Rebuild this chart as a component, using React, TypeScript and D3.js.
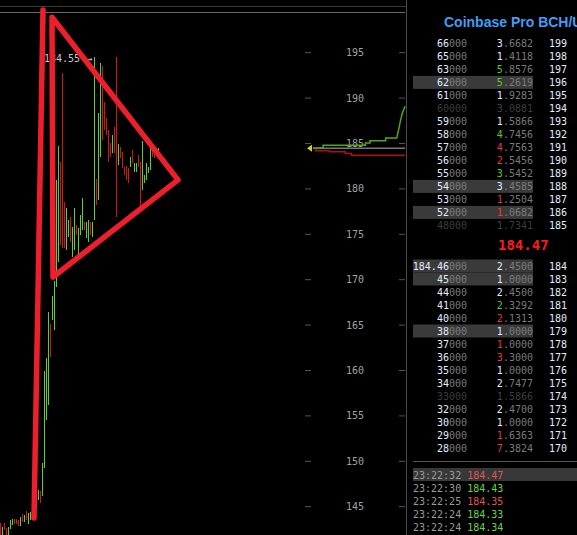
import * as d3 from "d3";

// candles, one per 2px column, left to right
const candleHighs = [
  143.2, 142.8, 143.2, 142.7, 142.8, 143.5, 143.7, 143.7, 143.6, 143.5,
  143.9, 144.2, 144.1, 144.5, 144.3, 144.4, 144.9, 145.2, 146.6, 146.8,
  146.7, 149.8, 160.0, 161.4, 166.4, 165.1, 168.2, 169.9, 181.0, 184.7,
  183.0, 192.8, 178.6, 177.9, 176.6, 176.9, 175.8, 177.9, 176.0, 175.7,
  177.1, 179.0, 176.4, 176.3, 176.6, 176.4, 176.4, 194.5, 181.1, 188.4,
  193.9, 193.5, 189.6, 187.8, 186.5, 185.1, 185.9, 186.8, 194.5, 184.9,
  184.6, 184.1, 182.4, 182.5, 182.3, 183.5, 184.3, 182.9, 182.9, 183.7,
  183.0, 185.3, 181.5, 182.9, 182.4, 184.6, 184.6, 184.1, 184.5, 184.5,
];
const candleLows = [
  141.9, 141.9, 142.4, 141.9, 141.9, 142.5, 143.0, 143.1, 143.1, 142.9,
  142.9, 143.3, 143.3, 143.5, 143.1, 143.5, 144.0, 144.1, 144.9, 145.7,
  145.4, 146.2, 149.3, 154.6, 156.2, 161.5, 165.6, 164.5, 169.2, 171.9,
  173.8, 173.5, 173.5, 173.3, 174.7, 174.2, 172.5, 173.3, 174.9, 172.5,
  174.9, 175.5, 175.5, 174.6, 174.2, 174.9, 174.7, 176.6, 178.2, 178.8,
  183.5, 185.4, 186.5, 185.9, 183.0, 183.5, 184.0, 184.0, 176.9, 182.6,
  183.4, 182.3, 181.5, 181.0, 180.6, 182.4, 182.9, 181.9, 181.9, 182.4,
  177.9, 179.9, 180.6, 181.0, 181.8, 182.1, 183.5, 183.4, 183.7, 184.1,
];
const candleUp = [
  0, 1, 0, 0, 1, 1, 1, 0, 0, 0,
  1, 0, 1, 0, 1, 1, 0, 1, 1, 1,
  0, 1, 1, 1, 1, 0, 1, 1, 1, 1,
  0, 0, 0, 1, 1, 0, 1, 1, 0, 1,
  1, 1, 0, 1, 1, 0, 1, 1, 0, 1,
  1, 0, 0, 0, 0, 0, 1, 0, 0, 1,
  0, 0, 0, 0, 0, 1, 0, 1, 1, 0,
  0, 1, 1, 1, 1, 1, 0, 0, 1, 1,
];

const priceTicks = [195, 190, 185, 180, 175, 170, 165, 160, 155, 150, 145];
const lastPrice = 184.47;

// depth lines: [cumulative volume, price]
const askDepth = [
  [0, 184.5], [11, 184.5], [11, 184.8], [57, 184.8], [57, 185.05], [62, 185.05],
  [62, 185.3], [79, 185.3], [79, 185.6], [91, 185.6], [93, 186.5], [95, 187.5],
  [97, 188.3], [100, 189.1],
];
const bidDepth = [
  [0, 184.45], [3, 184.45], [3, 184.2], [18, 184.2], [18, 184.1], [35, 184.1],
  [35, 183.9], [42, 183.9], [42, 183.7], [100, 183.7],
];

// red hand drawing, in candle index / price
const flagPole = [[17, 143.75], [21.5, 199.7]];
const flagTriangle = [[26, 198.9], [89, 181.0], [26.5, 170.3]];

// order book
const askHeads = ["66", "65", "63", "62", "61", "60", "59", "58", "57", "56", "55", "54", "53", "52", "48"];
const askSizes = ["3.6682", "1.4118", "5.8576", "5.2619", "1.9283", "3.0881", "1.5866", "4.7456", "4.7563", "2.5456", "3.5452", "3.4585", "1.2504", "1.0682", "1.7341"];
const askTones = ["w", "w", "g", "g", "w", "d", "w", "g", "r", "r", "g", "w", "r", "r", "d"];
const askLevels = [199, 198, 197, 196, 195, 194, 193, 192, 191, 190, 189, 188, 187, 186, 185];
const askMarked = [3, 11, 13];

const bidHeads = ["184.46", "45", "44", "41", "40", "38", "37", "36", "35", "34", "33", "32", "30", "29", "28"];
const bidSizes = ["2.4500", "1.0000", "2.4500", "2.3292", "2.1313", "1.0000", "1.0000", "3.3000", "1.0000", "2.7477", "1.5866", "2.4700", "1.0000", "1.6363", "7.3824"];
const bidTones = ["w", "w", "w", "g", "r", "w", "r", "r", "w", "w", "d", "w", "w", "r", "r"];
const bidLevels = [184, 183, 182, 181, 180, 179, 178, 177, 176, 175, 174, 173, 172, 171, 170];
const bidMarked = [0, 1, 5];

const tradeTimes = ["23:22:32", "23:22:30", "23:22:25", "23:22:24", "23:22:24"];
const tradePrices = ["184.47", "184.43", "184.35", "184.33", "184.34"];
const tradeUp = [0, 1, 0, 1, 1];

const W = 577;
const H = 535;
const MONO = "'DejaVu Sans Mono', monospace";
const GREEN = "#66cc2c";
const RED = "#cc1818";
const INK = "#ee1f2c";
const BRIGHT = "#e2ecff";
const DIMTXT = "#7a7a7a";

const toneColor = (t: string) =>
  t === "g" ? "#5fc92a" : t === "r" ? "#e43a3a" : t === "d" ? "#444" : BRIGHT;

export default function App() {
  const x = d3.scaleLinear().domain([0, 100]).range([0, 200]);
  const y = d3.scaleLinear().domain([145, 195]).range([506.7, 52.7]);
  const depthX = d3.scaleLinear().domain([0, 100]).range([313, 405]);

  const depthLine = d3
    .line<number[]>()
    .x((d) => depthX(d[0]))
    .y((d) => y(d[1]));
  const drawLine = d3
    .line<number[]>()
    .x((d) => x(d[0]))
    .y((d) => y(d[1]));

  const bookRow = (
    i: number,
    cy: number,
    head: string,
    size: string,
    tone: string,
    level: number,
    marked: boolean
  ) => {
    const dim = tone === "d";
    return (
      <g key={`${level}`}>
        {marked && <rect x={413} y={cy - 6.5} width={120} height={13} fill="#3a3a3a" />}
        <text x={467} y={cy} textAnchor="end" dominantBaseline="central" fontFamily={MONO} fontSize={10}>
          <tspan fill={dim ? "#3c3c3c" : BRIGHT}>{head}</tspan>
          <tspan fill={dim ? "#3c3c3c" : DIMTXT}>000</tspan>
        </text>
        <text x={533} y={cy} textAnchor="end" dominantBaseline="central" fontFamily={MONO} fontSize={10}>
          <tspan fill={toneColor(tone)}>{size[0]}</tspan>
          <tspan fill={dim ? "#3c3c3c" : DIMTXT}>{size.slice(1)}</tspan>
        </text>
        <text x={549} y={cy} dominantBaseline="central" fontFamily={MONO} fontSize={10} fill={BRIGHT}>
          {level}
        </text>
      </g>
    );
  };

  return (
    <svg width={W} height={H} style={{ position: "fixed", left: 0, top: 0 }}>
      <rect width={W} height={H} fill="#000" />

      {/* frame */}
      <line x1={0} x2={407} y1={6.5} y2={6.5} stroke="#3a3a3a" />
      <line x1={0} x2={405} y1={12.5} y2={12.5} stroke="#6a6a6a" />
      <line x1={406.5} x2={406.5} y1={0} y2={H} stroke="#4a4a4a" />

      {/* price axis */}
      {priceTicks.map((t) => (
        <g key={t}>
          <line x1={305} x2={311} y1={y(t)} y2={y(t)} stroke="#555" />
          <line x1={399} x2={405} y1={y(t)} y2={y(t)} stroke="#555" />
          <text x={355} y={y(t)} textAnchor="middle" dominantBaseline="central" fontFamily={MONO} fontSize={10} fill="#a0a0a0">
            {t}
          </text>
        </g>
      ))}

      {/* depth */}
      <line x1={313} x2={405} y1={y(lastPrice)} y2={y(lastPrice)} stroke="#777" strokeWidth={1.5} />
      <path d={depthLine(bidDepth) ?? ""} fill="none" stroke="#b01010" strokeWidth={1.5} />
      <path d={depthLine(askDepth) ?? ""} fill="none" stroke="#4fa81a" strokeWidth={1.5} />
      <path
        d={`M${depthX(0) - 6},${y(lastPrice)} l5,-3.5 l0,7 z`}
        fill="#d8d800"
      />

      {/* candles */}
      <g shapeRendering="crispEdges">
        {candleHighs.map((hi, i) => (
          <rect
            key={i}
            x={x(i)}
            y={y(hi)}
            width={1}
            height={Math.max(1, y(candleLows[i]) - y(hi))}
            fill={candleUp[i] ? GREEN : RED}
          />
        ))}
      </g>

      <text x={x(22)} y={y(194.4)} dominantBaseline="central" fontFamily={MONO} fontSize={10} fill="#c8c8c8">
        184.55 →
      </text>

      {/* hand drawn flag */}
      <path d={drawLine(flagPole) ?? ""} fill="none" stroke={INK} strokeWidth={5.5} strokeLinecap="round" />
      <path
        d={(drawLine(flagTriangle) ?? "") + "Z"}
        fill="none"
        stroke={INK}
        strokeWidth={5.5}
        strokeLinejoin="round"
      />

      {/* order book */}
      <text x={444} y={27} fontFamily="'Liberation Sans', Arial, sans-serif" fontWeight="bold" fontSize={14} fill="#3f9ff5">
        Coinbase Pro BCH/USD
      </text>
      {askHeads.map((h, i) =>
        bookRow(i, 43.4 + i * 13, h, askSizes[i], askTones[i], askLevels[i], askMarked.includes(i))
      )}
      <text x={498} y={245} dominantBaseline="central" fontFamily={MONO} fontWeight="bold" fontSize={14} fill="#ff1a1a">
        {lastPrice.toFixed(2)}
      </text>
      {bidHeads.map((h, i) =>
        bookRow(i, 266 + i * 13, h, bidSizes[i], bidTones[i], bidLevels[i], bidMarked.includes(i))
      )}

      {/* trades */}
      <line x1={413} x2={W} y1={461.5} y2={461.5} stroke="#555" />
      <rect x={413} y={468} width={W - 413} height={13} fill="#383838" />
      {tradeTimes.map((t, i) => (
        <text key={i} x={413} y={474.5 + i * 13} dominantBaseline="central" fontFamily={MONO} fontSize={10}>
          <tspan fill="#9a9a9a">{t}</tspan>
          <tspan fill={tradeUp[i] ? "#6bd63a" : "#e05555"}> {tradePrices[i]}</tspan>
        </text>
      ))}
    </svg>
  );
}
